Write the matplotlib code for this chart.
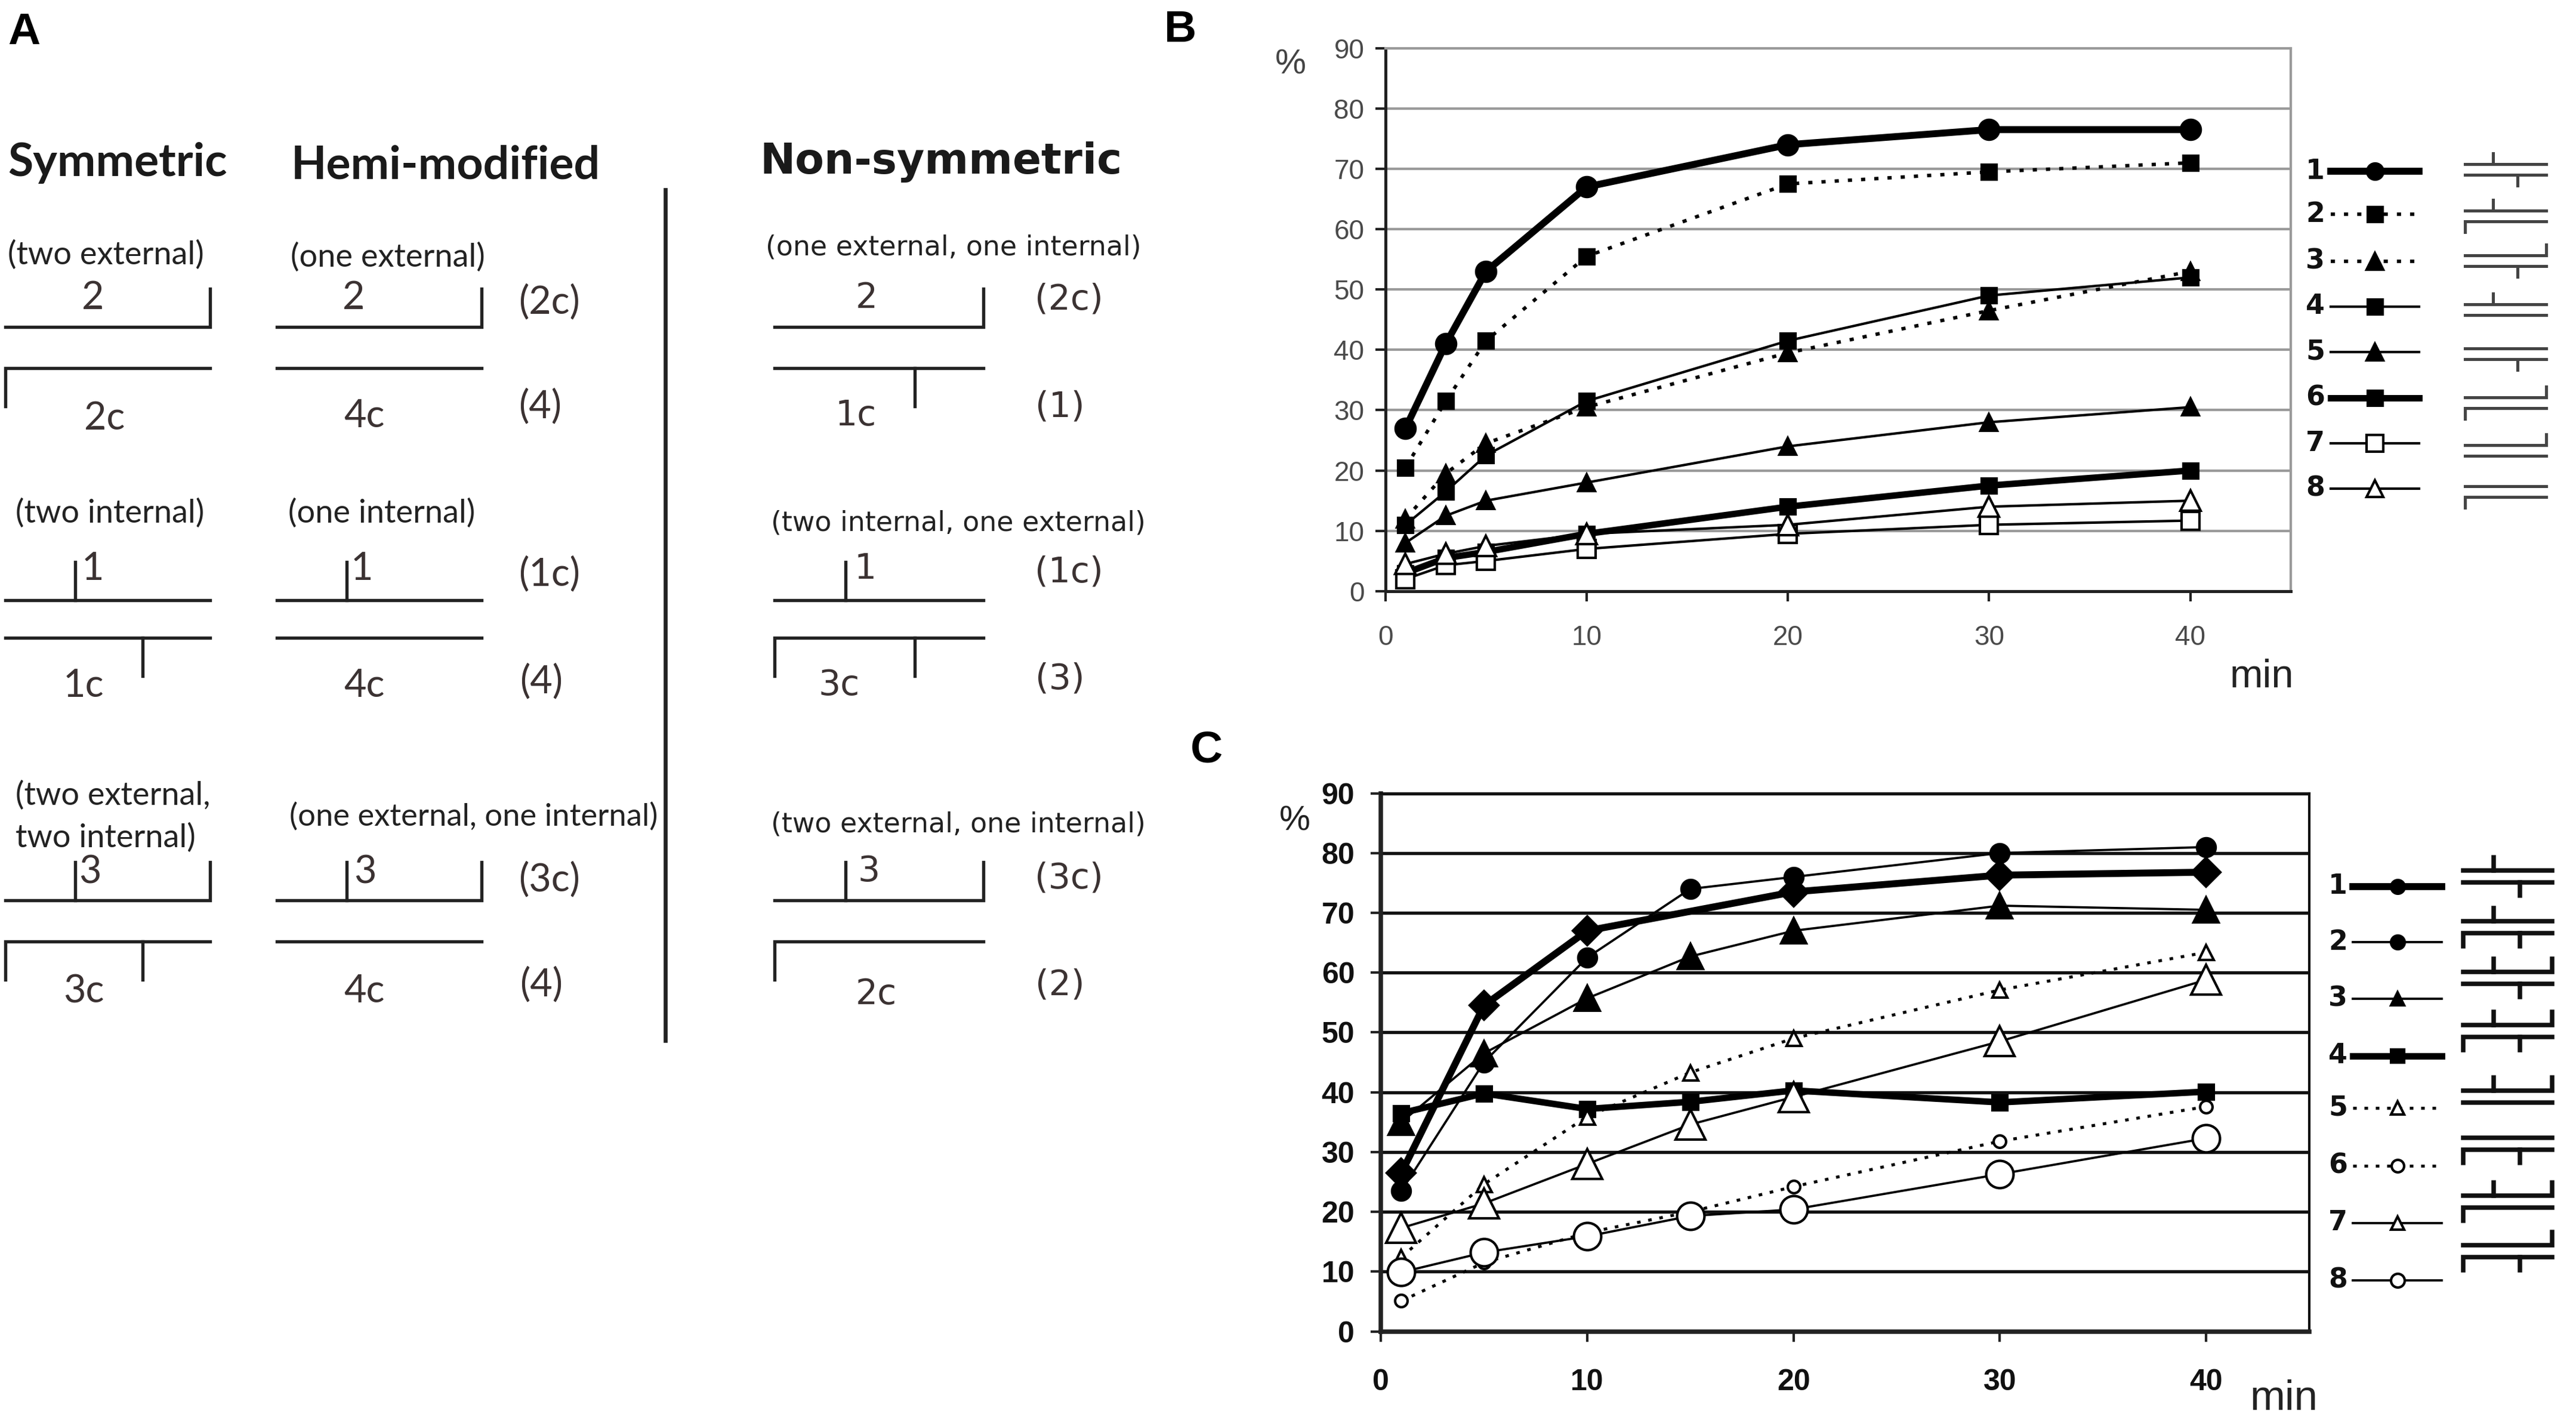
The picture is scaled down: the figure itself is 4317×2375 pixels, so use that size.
import matplotlib
matplotlib.use("Agg")
import matplotlib.pyplot as plt

# ---- data ----
time_b = [1, 3, 5, 10, 20, 30, 40]
b_series = {
    "1": [27, 41, 53, 67, 74, 76.5, 76.5],
    "2": [20.5, 31.5, 41.5, 55.5, 67.5, 69.5, 71],
    "3": [12, 19.5, 24.5, 30.5, 39.5, 46.5, 53],
    "4": [11, 16.5, 22.5, 31.5, 41.5, 49, 52],
    "5": [8, 12.5, 15, 18, 24, 28, 30.5],
    "6": [3, 5.5, 6.5, 9.5, 14, 17.5, 20],
    "7": [2, 4.3, 5, 7, 9.5, 11, 11.7],
    "8": [4.5, 6.2, 7.5, 9.5, 11, 14, 15],
}

time_c = [1, 5, 10, 15, 20, 30, 40]
time_c1 = [1, 5, 10, 20, 30, 40]
c_series = {
    "1": [26.5, 54.5, 67, 73.5, 76.3, 76.8],
    "2": [23.5, 45, 62.5, 74, 76, 80, 81],
    "3": [35, 46.5, 55.7, 62.7, 67, 71.2, 70.5],
    "4": [36.5, 39.8, 37.2, 38.4, 40.3, 38.3, 40.1],
    "5": [12.4, 24.6, 35.9, 43.3, 49, 57.1, 63.4],
    "6": [5.1, 11.5, 16.5, 20, 24.2, 31.8, 37.6],
    "7": [17.3, 21.4, 28, 34.6, 39.2, 48.5, 58.8],
    "8": [9.9, 13.2, 15.9, 19.3, 20.4, 26.3, 32.3],
}

x_ticks = [0, 10, 20, 30, 40]
y_ticks = [0, 10, 20, 30, 40, 50, 60, 70, 80, 90]

# strand schematics: (top internal, top external, bottom external, bottom internal)
b_schemes = [(1, 0, 0, 1), (1, 0, 1, 0), (0, 1, 0, 1), (1, 0, 0, 0),
             (0, 0, 0, 1), (0, 1, 1, 0), (0, 1, 0, 0), (0, 0, 1, 0)]
c_schemes = [(1, 0, 0, 1), (1, 0, 1, 1), (1, 1, 0, 1), (1, 1, 1, 1),
             (1, 1, 0, 0), (0, 0, 1, 1), (1, 1, 1, 0), (0, 1, 1, 1)]
a_schemes = [
    [(0, 1, 1, 0), (0, 1, 0, 0), (0, 1, 0, 1)],
    [(1, 0, 0, 1), (1, 0, 0, 0), (1, 0, 1, 1)],
    [(1, 1, 1, 1), (1, 1, 0, 0), (1, 1, 1, 0)],
]

DOT = (0, (1.2, 2.6))
# styles: linewidth, linestyle, marker, filled, markersize
b_styles = {
    "1": (2.8, "-", "o", True, 8),
    "2": (1.4, DOT, "s", True, 6),
    "3": (1.4, DOT, "^", True, 6.5),
    "4": (1.0, "-", "s", True, 6),
    "5": (1.0, "-", "^", True, 6.5),
    "6": (2.6, "-", "s", True, 6),
    "7": (1.0, "-", "s", False, 7),
    "8": (1.0, "-", "^", False, 8),
}
c_styles = {
    "1": (2.8, "-", "D", True, 8),
    "2": (0.9, "-", "o", True, 7.5),
    "3": (0.9, "-", "^", True, 10),
    "4": (2.6, "-", "s", True, 6),
    "5": (1.2, DOT, "^", False, 6),
    "6": (1.2, DOT, "o", False, 5),
    "7": (0.9, "-", "^", False, 12),
    "8": (0.9, "-", "o", False, 11),
}
c_legend_markers = {"1": "o", "2": "o", "3": "^", "4": "s",
                    "5": "^", "6": "o", "7": "^", "8": "o"}

W, H = 4317, 2375
fig = plt.figure(figsize=(W / 300, H / 300), dpi=300)

# full-figure overlay in pixel coordinates for panel A and the legends
ax0 = fig.add_axes([0, 0, 1, 1])
ax0.set_xlim(0, W)
ax0.set_ylim(H, 0)
ax0.axis("off")


def strands(ax, x0, w, yt, yb, spec, tick, lw=1.3, color="#222222",
            fi=0.34, fb=0.67):
    t_int, t_ext, b_ext, b_int = spec
    xs, ys = [x0, x0 + w], [yt, yt]
    if t_ext:
        xs.append(x0 + w)
        ys.append(yt - tick)
    ax.plot(xs, ys, color=color, lw=lw, solid_joinstyle="miter")
    xs, ys = [x0 + w, x0], [yb, yb]
    if b_ext:
        xs.append(x0)
        ys.append(yb + tick)
    ax.plot(xs, ys, color=color, lw=lw, solid_joinstyle="miter")
    if t_int:
        ax.plot([x0 + fi * w] * 2, [yt, yt - tick], color=color, lw=lw)
    if b_int:
        ax.plot([x0 + fb * w] * 2, [yb, yb + tick], color=color, lw=lw)


# ---- panel A ----
col_x = [9, 464, 1298]
col_w = [343, 343, 350]
row_top = [548, 1006, 1509]
row_bot = [617, 1069, 1578]
for r in range(3):
    for c in range(3):
        strands(ax0, col_x[c], col_w[c], row_top[r], row_bot[r],
                a_schemes[r][c], 64)

ax0.plot([1115, 1115], [318, 1744], color="#222222", lw=1.6)

head = dict(family=["Lato", "DejaVu Sans"], fontweight="bold", fontsize=18.5,
            color="#1a1a1a", va="center", ha="left")
ax0.text(13, 273, "Symmetric", **head)
ax0.text(488, 277, "Hemi-modified", **head)
ax0.text(1274, 272, "Non-symmetric", family="DejaVu Sans", fontweight="bold",
         fontsize=17, color="#1a1a1a", va="center", ha="left")

sub = dict(family=["Lato", "DejaVu Sans"], fontsize=13, color="#222222",
           va="center", ha="left")
subw = dict(family="DejaVu Sans", fontsize=11, color="#222222",
            va="center", ha="left")
ax0.text(13, 427, "(two external)", **sub)
ax0.text(487, 431, "(one external)", **sub)
ax0.text(1283, 415, "(one external, one internal)", **subw)
ax0.text(26, 860, "(two internal)", **sub)
ax0.text(483, 860, "(one internal)", **sub)
ax0.text(1292, 877, "(two internal, one external)", **subw)
ax0.text(26, 1333, "(two external,", **sub)
ax0.text(26, 1404, "two internal)", **sub)
ax0.text(485, 1369, "(one external, one internal)",
         **{**sub, "fontsize": 12.6})
ax0.text(1292, 1382, "(two external, one internal)", **subw)

num = dict(family=["Lato", "DejaVu Sans"], fontsize=15.5, color="#3b3232",
           va="center", ha="center")
numw = dict(family="DejaVu Sans", fontsize=14, color="#3b3232",
            va="center", ha="center")
for x, y, s in [(156, 500, "2"), (593, 500, "2"), (921, 506, "(2c)"),
                (175, 702, "2c"), (610, 698, "4c"), (905, 681, "(4)"),
                (155, 954, "1"), (606, 954, "1"), (921, 962, "(1c)"),
                (140, 1150, "1c"), (610, 1150, "4c"), (907, 1142, "(4)"),
                (151, 1462, "3"), (612, 1462, "3"), (921, 1474, "(3c)"),
                (140, 1662, "3c"), (610, 1662, "4c"), (907, 1650, "(4)")]:
    ax0.text(x, y, s, **num)
for x, y, s in [(1452, 499, "2"), (1791, 502, "(2c)"), (1434, 697, "1c"),
                (1776, 682, "(1)"), (1450, 954, "1"), (1791, 959, "(1c)"),
                (1406, 1149, "3c"), (1776, 1138, "(3)"), (1456, 1461, "3"),
                (1791, 1472, "(3c)"), (1468, 1667, "2c"), (1776, 1651, "(2)")]:
    ax0.text(x, y, s, **numw)

letter = dict(family=["Liberation Sans", "DejaVu Sans"], fontweight="bold",
              fontsize=18, color="black", va="center", ha="center")
ax0.text(40, 54, "A", **letter)
ax0.text(1978, 50, "B", **letter)
ax0.text(2022, 1258, "C", **letter)


def draw_series(ax, x, y, style, color="black"):
    lw, ls, mk, filled, ms = style
    ax.plot(x, y, color=color, lw=lw, ls=ls, marker=mk, ms=ms,
            mfc=color if filled else "white", mec=color, mew=1.0,
            zorder=3, clip_on=False)


def legend_item(ax, x1, x2, y, style, marker=None, ms_max=8, color="black"):
    lw, ls, mk, filled, ms = style
    ax.plot([x1, x2], [y, y], color=color, lw=lw, ls=ls)
    ax.plot([(x1 + x2) / 2], [y], marker=marker or mk, ms=min(ms, ms_max),
            color=color, mfc=color if filled else "white", mec=color, mew=1.0)


def format_axes(ax, grid_color, frame_color, label_kw, xpad, ypad, spine_lw):
    ax.set_xlim(0, 45)
    ax.set_ylim(0, 90)
    ax.set_xticks(x_ticks)
    ax.set_yticks(y_ticks)
    ax.yaxis.grid(True, color=grid_color, lw=1.0)
    ax.set_axisbelow(True)
    for side in ["left", "bottom"]:
        ax.spines[side].set_color("#222222")
        ax.spines[side].set_linewidth(spine_lw)
    for side in ["top", "right"]:
        ax.spines[side].set_color(frame_color)
        ax.spines[side].set_linewidth(1.0)
    ax.tick_params(direction="out", length=4, width=1.0, color="#222222")
    ax.tick_params(axis="x", pad=xpad)
    ax.tick_params(axis="y", pad=ypad)
    for lab in ax.get_xticklabels() + ax.get_yticklabels():
        lab.set(**label_kw)


# ---- panel B ----
axB = fig.add_axes([0.5378, 0.5828, 0.3515, 0.3832])
for key, vals in b_series.items():
    draw_series(axB, time_b, vals, b_styles[key])
format_axes(axB, "#9a9a9a", "#9a9a9a",
            dict(family=["Liberation Sans", "DejaVu Sans"], fontsize=11,
                 color="#4a4a4a"), 9.5, 4.5, 1.2)
ax0.text(2163, 108, "%", family=["Liberation Sans", "DejaVu Sans"],
         fontsize=14, color="#444444", ha="center", va="center")
ax0.text(3790, 1135, "min", family=["Liberation Sans", "DejaVu Sans"],
         fontsize=16, color="#222222", ha="center", va="center")

b_label_y = [287, 359, 438, 514, 590, 667, 743, 819]
b_scheme_y = [275, 353, 428, 510, 584, 666, 746, 815]
for i, key in enumerate(b_series):
    ax0.text(3880, b_label_y[i], key, family="DejaVu Sans", fontweight="bold",
             fontsize=11, ha="center", va="center", color="#111111")
    legend_item(ax0, 3906, 4054, b_label_y[i], b_styles[key], ms_max=6.5)
    strands(ax0, 4131, 136, b_scheme_y[i], b_scheme_y[i] + 18, b_schemes[i],
            18, lw=1.2, color="#444444", fi=0.345, fb=0.65)

# ---- panel C ----
axC = fig.add_axes([0.536, 0.0604, 0.3605, 0.3798])
draw_series(axC, time_c1, c_series["1"], c_styles["1"])
for key, vals in c_series.items():
    if key != "1":
        draw_series(axC, time_c, vals, c_styles[key])
format_axes(axC, "#111111", "#111111",
            dict(family=["Liberation Sans", "DejaVu Sans"], fontsize=12,
                 fontweight="bold", color="#111111"), 11, 6.5, 1.8)
axC.yaxis.grid(True, color="#111111", lw=1.3)
ax0.text(2170, 1377, "%", family=["Liberation Sans", "DejaVu Sans"],
         fontsize=14, color="#222222", ha="center", va="center")
ax0.text(3827, 2345, "min", family=["Liberation Sans Narrow", "Liberation Sans"],
         fontsize=17, color="#222222", ha="center", va="center")

c_label_y = [1486, 1579, 1674, 1770, 1857, 1954, 2050, 2146]
c_scheme_y = [1459, 1544, 1629, 1718, 1828, 1907, 2004, 2087]
for i, key in enumerate(c_series):
    ax0.text(3918, c_label_y[i], key, family="DejaVu Sans", fontweight="bold",
             fontsize=11, ha="center", va="center", color="#111111")
    legend_item(ax0, 3943, 4092, c_label_y[i], c_styles[key],
                marker=c_legend_markers[key], ms_max=5.5)
    strands(ax0, 4128, 149, c_scheme_y[i], c_scheme_y[i] + 20, c_schemes[i],
            22, lw=1.8, color="#111111", fi=0.345, fb=0.635)

fig.savefig("out.png", dpi=300, facecolor="white")
